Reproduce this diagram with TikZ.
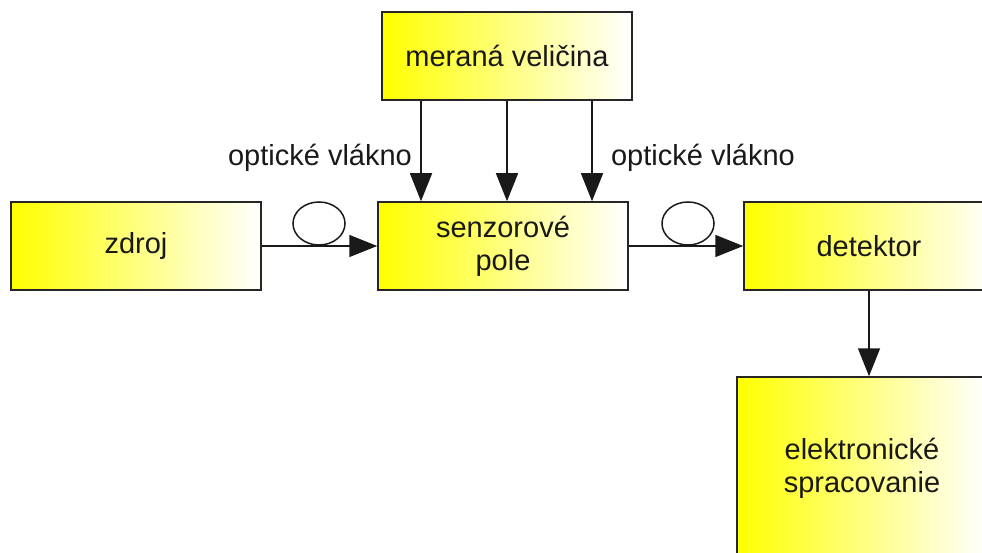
\documentclass[tikz,border=0pt]{standalone}
\usepackage{fontspec}
\setmainfont{Liberation Sans}
\usetikzlibrary{arrows.meta,shapes.geometric}
\tikzset{
  x=1pt, y=-1pt,
  blk/.style={draw=black!85, line width=1.5pt, shading=axis, left color=yellow, right color=white,
    shading angle=90, minimum width=250pt, minimum height=88pt, align=center, inner sep=0pt,
    font=\fontsize{29}{33}\selectfont, text=black!90},
  arr/.style={line width=1.5pt, draw=black!90, -{Triangle[length=28pt,width=22pt]}},
  loopy/.style={ellipse, draw=black!90, line width=1.5pt, minimum width=52pt, minimum height=43pt, inner sep=0pt},
  lbl/.style={font=\fontsize{29}{33}\selectfont, text=black!90, inner sep=0pt}
}
\begin{document}
\begin{tikzpicture}
\useasboundingbox (0,0) rectangle (982,553);
\fill[white] (0,0) rectangle (982,553);
\begin{scope}
\clip (0,0) rectangle (982,553);
\node[blk] (mer) at (507,56) {meraná veličina};
\node[blk] (zdroj) at (136,246) {zdroj};
\node[blk] (senz) at (503,246) {senzorové\\pole};
\node[blk] (det) at (869,246) {detektor};
\node[blk, minimum height=182pt] (elek) at (862,468) {elektronické\\spracovanie};
\node[loopy] (loopA) at (319,223.5) {};
\node[loopy] (loopB) at (688,223.5) {};
\node[lbl] (optA) at (320,158) {optické vlákno};
\node[lbl] (optB) at (703,158) {optické vlákno};
\draw[arr] (zdroj.east) -- (senz.west);
\draw[arr] (senz.east) -- (det.west);
\draw[arr] ([xshift=-86pt]mer.south) -- ([xshift=-86pt]mer.south |- senz.north);
\draw[arr] (mer.south) -- (mer.south |- senz.north);
\draw[arr] ([xshift=85pt]mer.south) -- ([xshift=85pt]mer.south |- senz.north);
\draw[arr] (det.south) -- (det.south |- elek.north);
\end{scope}
\end{tikzpicture}
\end{document}
